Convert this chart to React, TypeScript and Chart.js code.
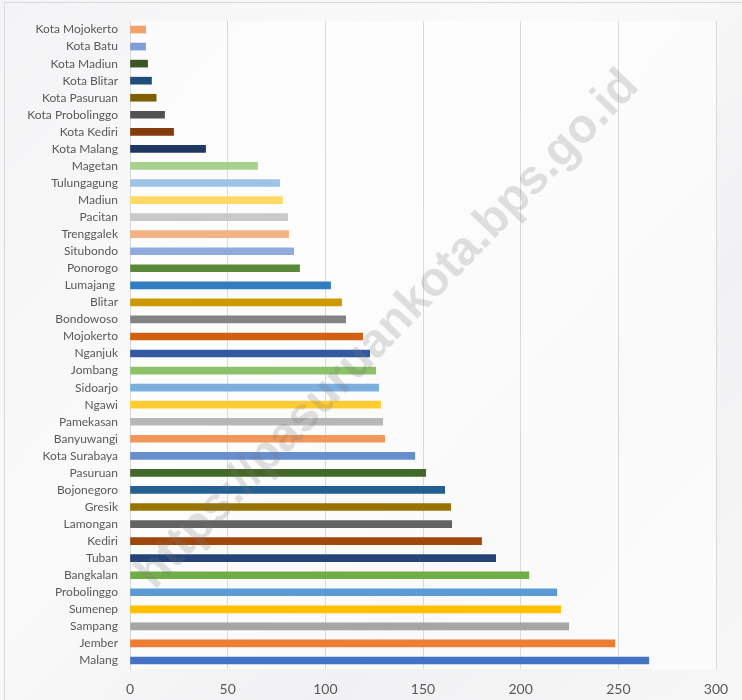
import React, { useEffect, useRef } from "react";
import { Chart, registerables } from "chart.js";

Chart.register(...registerables);

// Bottom (first) to top (last)
const categories = [
  "Malang", "Jember", "Sampang", "Sumenep", "Probolinggo", "Bangkalan", "Tuban", "Kediri",
  "Lamongan", "Gresik", "Bojonegoro", "Pasuruan", "Kota Surabaya", "Banyuwangi", "Pamekasan",
  "Ngawi", "Sidoarjo", "Jombang", "Nganjuk", "Mojokerto", "Bondowoso", "Blitar", "Lumajang ",
  "Ponorogo", "Situbondo", "Trenggalek", "Pacitan", "Madiun", "Tulungagung", "Magetan",
  "Kota Malang", "Kota Kediri", "Kota Probolinggo", "Kota Pasuruan", "Kota Blitar",
  "Kota Madiun", "Kota Batu", "Kota Mojokerto",
];

const values = [
  265.6, 248.2, 224.6, 220.5, 218.5, 204.2, 187.2, 180.0,
  164.7, 164.2, 161.1, 151.4, 145.8, 130.4, 129.4,
  128.3, 127.3, 125.8, 122.7, 119.1, 110.4, 108.3, 102.7,
  86.8, 83.8, 81.2, 80.7, 78.1, 76.6, 65.3,
  38.7, 22.3, 17.7, 13.4, 11.0,
  9.0, 8.0, 8.0,
];

const barColors = [
  "#4472C4", "#ED7D31", "#A5A5A5", "#FFC000", "#5B9BD5", "#70AD47",
  "#264478", "#9E480E", "#636363", "#997300", "#255E91", "#43682B",
  "#698ED0", "#F1975A", "#B7B7B7", "#FFCD33", "#7CAFDD", "#8CC168",
  "#335AA1", "#D26012", "#848484", "#CC9A00", "#327DC2", "#5A8A39",
  "#8FAADC", "#F4B183", "#C9C9C9", "#FFD966", "#9DC3E6", "#A9D18E",
  "#203864", "#843C0C", "#525252", "#7F6000", "#1F4E79", "#385723",
  "#7F9ED8", "#F2A16C",
];

const xTicks = [0, 50, 100, 150, 200, 250, 300];
const watermark = "https://pasuruankota.bps.go.id";

export default function App() {
  const ref = useRef<HTMLCanvasElement | null>(null);

  useEffect(() => {
    if (!ref.current) return;
    const bgPlugin = {
      id: "bg",
      beforeDraw(chart: any) {
        const { ctx, width, height, chartArea } = chart;
        ctx.save();
        const g = ctx.createLinearGradient(0, 0, width, height);
        g.addColorStop(0, "#f4f4f6");
        g.addColorStop(0.4, "#fafafb");
        g.addColorStop(0.7, "#f1f1f3");
        g.addColorStop(1, "#f7f7f8");
        ctx.fillStyle = g;
        ctx.fillRect(0, 0, width, height);
        ctx.fillStyle = "rgba(255,255,255,0.6)";
        ctx.fillRect(chartArea.left, chartArea.top, chartArea.right - chartArea.left, chartArea.bottom - chartArea.top);
        ctx.strokeStyle = "#d9d9d9";
        ctx.lineWidth = 1;
        ctx.strokeRect(4.5, 2.5, width + 10, height + 10);
        ctx.restore();
      },
      afterDraw(chart: any) {
        const { ctx } = chart;
        ctx.save();
        ctx.font = "bold 40px 'Liberation Sans', Arial, sans-serif";
        const w = ctx.measureText(watermark).width;
        const size = (40 * 700) / w;
        ctx.font = `bold ${size}px 'Liberation Sans', Arial, sans-serif`;
        ctx.translate(388, 330);
        ctx.rotate((-46 * Math.PI) / 180);
        ctx.textAlign = "center";
        ctx.textBaseline = "middle";
        ctx.fillStyle = "rgba(120,120,120,0.22)";
        ctx.fillText(watermark, 0, 0);
        ctx.restore();
      },
    };

    const chart = new Chart(ref.current, {
      type: "bar",
      data: {
        labels: categories,
        datasets: [
          {
            data: values,
            backgroundColor: barColors,
            borderWidth: 0,
            barThickness: 7,
          },
        ],
      },
      options: {
        indexAxis: "y",
        animation: false,
        responsive: false,
        maintainAspectRatio: false,
        layout: { padding: { left: 0, right: 26, top: 21, bottom: 0 } },
        plugins: { legend: { display: false }, tooltip: { enabled: false } },
        scales: {
          x: {
            min: 0,
            max: 300,
            afterBuildTicks(scale: any) {
              scale.ticks = xTicks.map((v) => ({ value: v }));
            },
            afterFit(scale: any) {
              scale.height = 31;
            },
            grid: { color: "#d9d9d9", drawTicks: false, lineWidth: 1 },
            border: { display: false },
            ticks: {
              padding: 12,
              color: "#595959",
              font: { family: "Lato, 'Open Sans', sans-serif", size: 14 },
            },
          },
          y: {
            reverse: true,
            afterFit(scale: any) {
              scale.width = 130;
            },
            grid: { display: false, drawTicks: false },
            border: { display: true, color: "#d9d9d9", width: 1 },
            ticks: {
              padding: 12,
              autoSkip: false,
              color: "#595959",
              font: { family: "Lato, 'Open Sans', sans-serif", size: 12 },
            },
          },
        },
      },
      plugins: [bgPlugin],
    });
    return () => chart.destroy();
  }, []);

  return (
    <div style={{ position: "fixed", left: 0, top: 0, width: 742, height: 700 }}>
      <canvas ref={ref} width={742} height={700} style={{ width: 742, height: 700 }} />
    </div>
  );
}
